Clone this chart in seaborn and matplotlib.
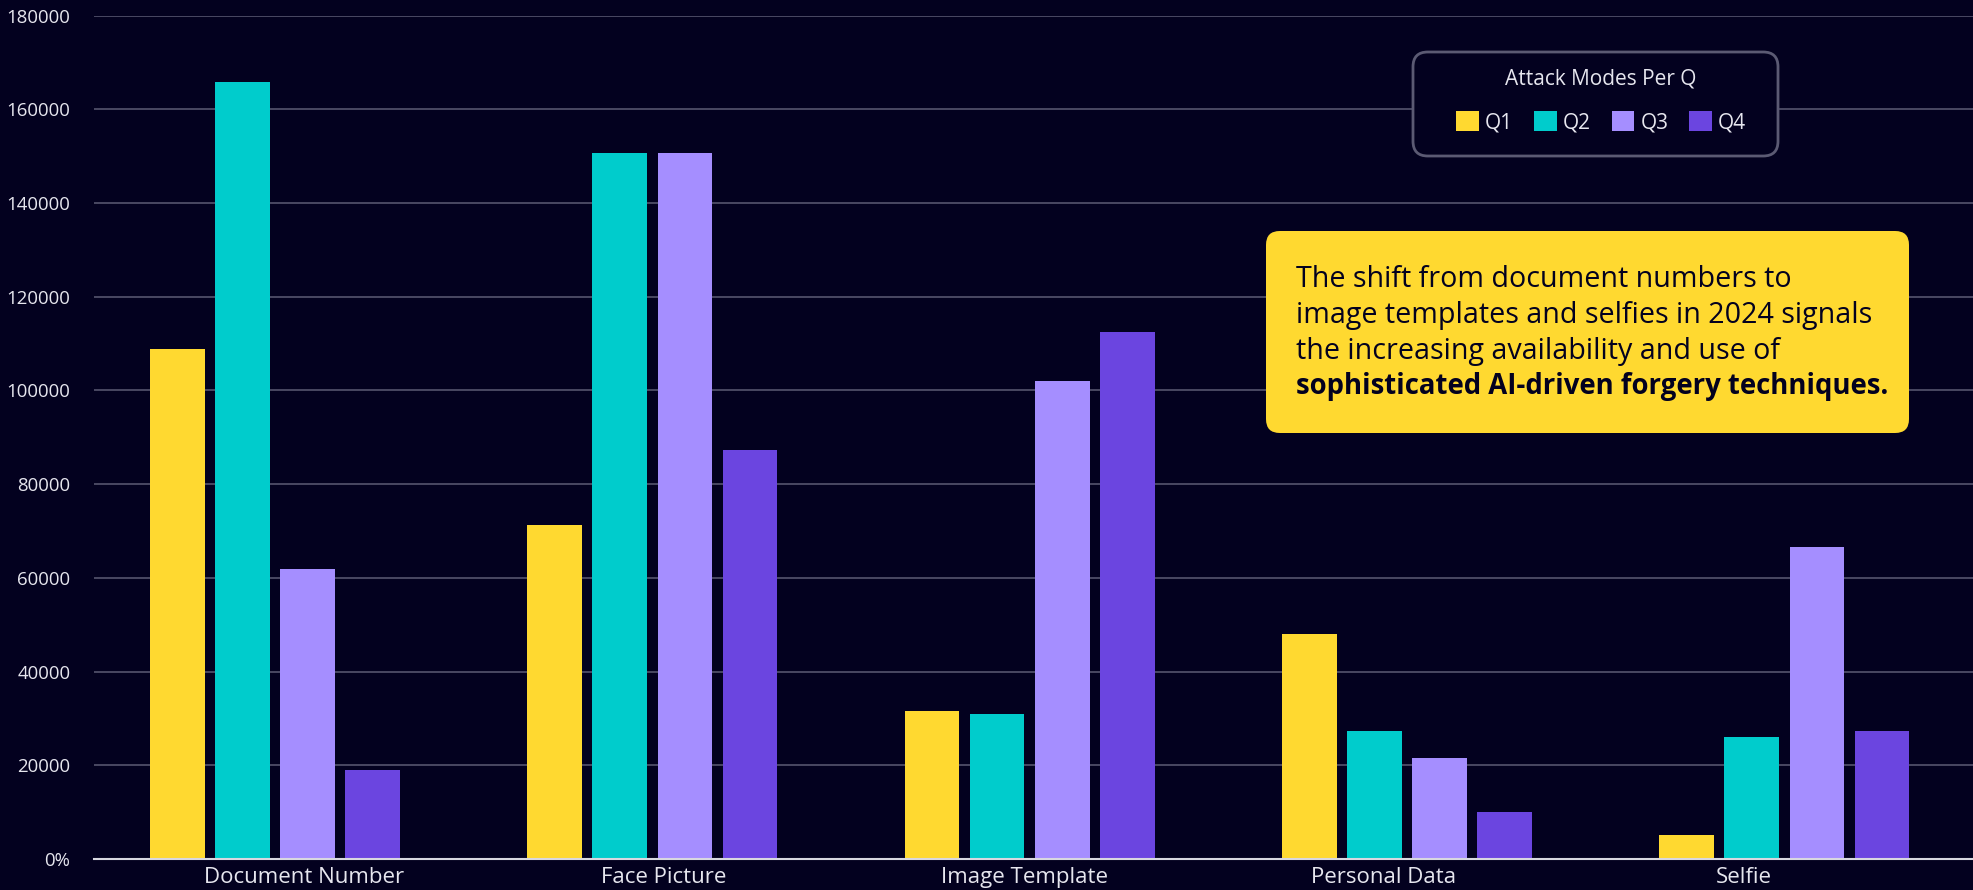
import numpy as np
import pandas as pd
import matplotlib
matplotlib.use("Agg")
import matplotlib.pyplot as plt
from matplotlib.patches import FancyBboxPatch
from matplotlib.ticker import FuncFormatter, MultipleLocator
import seaborn as sns

# ---- data ----
categories = ["Document Number", "Face Picture", "Image Template", "Personal Data", "Selfie"]
quarters = ["Q1", "Q2", "Q3", "Q4"]
q1 = [108800, 71200, 31700, 48100, 5200]
q2 = [165800, 150600, 30900, 27300, 26000]
q3 = [62000, 150600, 102000, 21600, 66500]
q4 = [19000, 87200, 112500, 10000, 27300]
colors = ["#ffd930", "#00cccc", "#a58eff", "#6b45e0"]

legend_title = "Attack Modes Per Q"
note_lines = ["The shift from document numbers to",
              "image templates and selfies in 2024 signals",
              "the increasing availability and use of"]
note_bold = "sophisticated AI-driven forgery techniques."

rows = []
for q, vals in zip(quarters, [q1, q2, q3, q4]):
    for c, v in zip(categories, vals):
        rows.append({"category": c, "quarter": q, "value": v})
df = pd.DataFrame(rows)

BG = "#03011f"
TXT = "#e6e6ee"
sns.set_theme(style="dark")
plt.rcParams["font.family"] = ["Open Sans", "DejaVu Sans"]

W, H = 1973, 890
fig = plt.figure(figsize=(W / 100, H / 100), dpi=100, facecolor=BG)
ax = fig.add_axes([0.0476, 0.0348, 0.9524, 0.9476])
ax.set_facecolor(BG)

sns.barplot(data=df, x="category", y="value", hue="quarter", order=categories,
            hue_order=quarters, palette=colors, saturation=1, width=0.69, gap=0.16,
            linewidth=0, edgecolor="none", ax=ax, zorder=3)

ax.set_ylim(0, 180000)
ax.set_xlim(-0.48, 4.5)
ax.yaxis.set_major_locator(MultipleLocator(20000))
ax.yaxis.set_major_formatter(FuncFormatter(lambda v, p: "0%" if v == 0 else f"{int(v)}"))
ax.grid(axis="y", color="#55546e", linewidth=1.2, zorder=0)
ax.grid(axis="x", visible=False)
ax.set_axisbelow(True)
for s in ["top", "right", "left"]:
    ax.spines[s].set_visible(False)
ax.spines["bottom"].set_color("#d8d8e0")
ax.spines["bottom"].set_linewidth(1.5)
ax.spines["bottom"].set_zorder(4)
ax.set_xlabel("")
ax.set_ylabel("")
ax.set_xticks(np.arange(len(categories)) * 0.954 + 0.077, categories)
ax.tick_params(axis="y", length=0, pad=17, labelsize=13.4, labelcolor=TXT)
ax.tick_params(axis="x", length=0, pad=6, labelsize=16, labelcolor=TXT)

# legend: custom rounded frame + figure legend on top
handles, labels = ax.get_legend_handles_labels()
ax.get_legend().remove()
lx0, ly0, lx1, ly1 = 1413, 52, 1778, 156
frame = FancyBboxPatch((lx0 / W, 1 - ly1 / H), (lx1 - lx0) / W, (ly1 - ly0) / H,
                       boxstyle="round,pad=0,rounding_size=0.0075",
                       transform=fig.transFigure, facecolor=BG,
                       edgecolor="#5b5a73", linewidth=2, zorder=4,
                       mutation_aspect=W / H)
fig.patches.append(frame)
leg = fig.legend(handles, labels, loc="center", bbox_to_anchor=(0.8115, 0.8865),
                 ncol=4, title=legend_title, frameon=False,
                 fontsize=15, title_fontsize=15, handlelength=1.1, handleheight=1.1,
                 handletextpad=0.28, columnspacing=1.0, borderpad=0,
                 labelspacing=1.05, labelcolor=TXT)
leg.set_zorder(6)
leg.get_title().set_color(TXT)
for h in leg.legend_handles:
    h.set_edgecolor("none")
    h.set_linewidth(0)

# annotation box
x0, y0, x1, y1 = 1266, 231, 1909, 433
box = FancyBboxPatch((x0 / W, 1 - y1 / H), (x1 - x0) / W, (y1 - y0) / H,
                     boxstyle="round,pad=0,rounding_size=0.007",
                     transform=fig.transFigure, facecolor="#ffd930",
                     edgecolor="none", zorder=10, mutation_aspect=W / H)
fig.patches.append(box)
baselines = [287, 323, 359, 394]
for line, yb in zip(note_lines, baselines[:3]):
    fig.text(1296 / W, 1 - yb / H, line, ha="left", va="baseline", fontsize=20.6,
             color="#03011f", zorder=11)
fig.text(1296 / W, 1 - baselines[3] / H, note_bold, ha="left", va="baseline",
         fontsize=19.8, color="#03011f", fontweight="bold", zorder=11)

fig.savefig("out.png", dpi=100, facecolor=BG)
